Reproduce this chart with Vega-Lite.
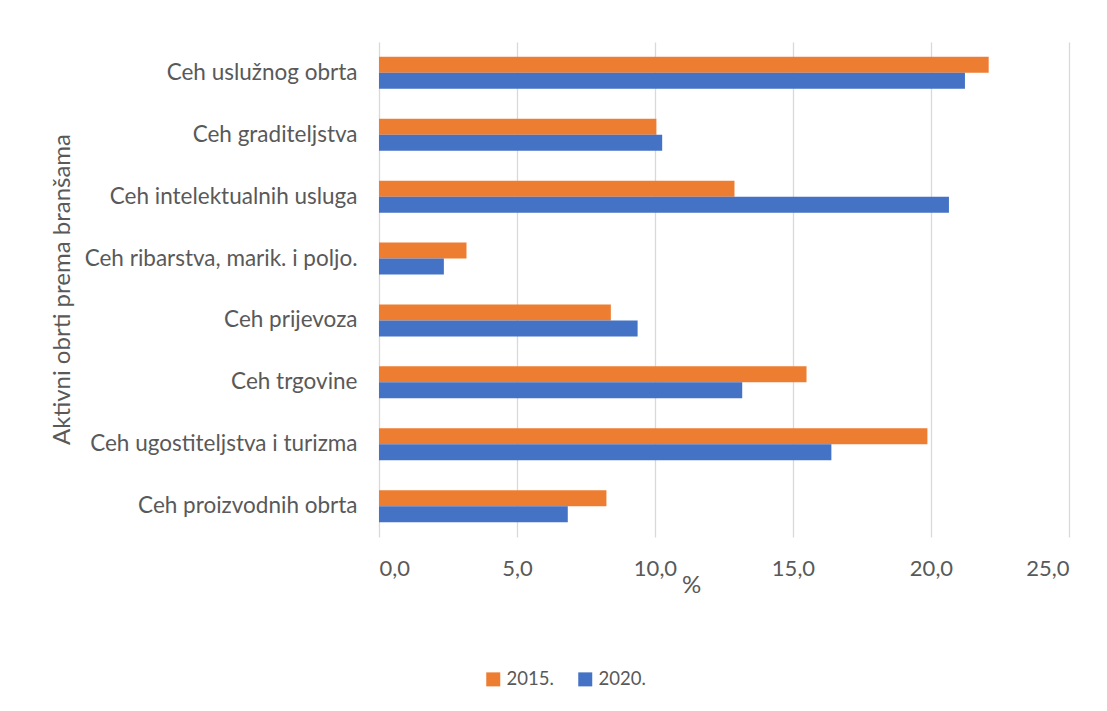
{
  "$schema": "https://vega.github.io/schema/vega-lite/v6.json",
  "width": 690,
  "height": 495,
  "autosize": {"type": "none"},
  "padding": {"left": 379, "top": 42, "right": 38, "bottom": 174},
  "background": "white",
  "config": {
    "font": "Lato",
    "view": {"stroke": null},
    "axis": {"labelColor": "#595959", "titleColor": "#595959", "labelFont": "Lato", "titleFont": "Lato", "labelFontWeight": "normal", "titleFontWeight": "normal"}
  },
  "data": {
    "values": [
      {"ceh": "Ceh uslužnog obrta", "godina": "2015.", "vrijednost": 22.09},
      {"ceh": "Ceh uslužnog obrta", "godina": "2020.", "vrijednost": 21.23},
      {"ceh": "Ceh graditeljstva", "godina": "2015.", "vrijednost": 10.05},
      {"ceh": "Ceh graditeljstva", "godina": "2020.", "vrijednost": 10.26},
      {"ceh": "Ceh intelektualnih usluga", "godina": "2015.", "vrijednost": 12.88},
      {"ceh": "Ceh intelektualnih usluga", "godina": "2020.", "vrijednost": 20.65},
      {"ceh": "Ceh ribarstva, marik. i poljo.", "godina": "2015.", "vrijednost": 3.17},
      {"ceh": "Ceh ribarstva, marik. i poljo.", "godina": "2020.", "vrijednost": 2.35},
      {"ceh": "Ceh prijevoza", "godina": "2015.", "vrijednost": 8.40},
      {"ceh": "Ceh prijevoza", "godina": "2020.", "vrijednost": 9.37},
      {"ceh": "Ceh trgovine", "godina": "2015.", "vrijednost": 15.49},
      {"ceh": "Ceh trgovine", "godina": "2020.", "vrijednost": 13.16},
      {"ceh": "Ceh ugostiteljstva i turizma", "godina": "2015.", "vrijednost": 19.87},
      {"ceh": "Ceh ugostiteljstva i turizma", "godina": "2020.", "vrijednost": 16.39},
      {"ceh": "Ceh proizvodnih obrta", "godina": "2015.", "vrijednost": 8.24},
      {"ceh": "Ceh proizvodnih obrta", "godina": "2020.", "vrijednost": 6.84}
    ]
  },
  "mark": {"type": "bar"},
  "encoding": {
    "y": {
      "field": "ceh",
      "type": "nominal",
      "sort": null,
      "scale": {"paddingInner": 0.483, "paddingOuter": 0.24},
      "axis": {
        "title": "Aktivni obrti prema branšama",
        "titleFontSize": 24,
        "titleX": -317,
        "titleY": 247,
        "titleAngle": -90,
        "titleAlign": "center",
        "titleBaseline": "middle",
        "labelFontSize": 22.5,
        "labelPadding": 22,
        "ticks": false,
        "domain": false,
        "grid": false,
        "labelLimit": 400
      }
    },
    "yOffset": {"field": "godina", "type": "nominal", "scale": {"paddingInner": 0, "paddingOuter": 0}},
    "x": {
      "field": "vrijednost",
      "type": "quantitative",
      "scale": {"domain": [0, 25], "nice": false},
      "axis": {
        "title": "%",
        "titleFontSize": 24,
        "titleX": 312,
        "titleY": 48,
        "titleAlign": "center",
        "titleBaseline": "middle",
        "values": [0, 5, 10, 15, 20, 25],
        "labelExpr": "replace(format(datum.value, '.1f'), '.', ',')",
        "labelFontSize": 22,
        "labelPadding": 21,
        "ticks": false,
        "domain": false,
        "grid": true,
        "gridColor": "#d9d9d9",
        "gridWidth": 1.3
      }
    },
    "color": {
      "field": "godina",
      "type": "nominal",
      "scale": {"domain": ["2015.", "2020."], "range": ["#ED7D31", "#4472C4"]},
      "legend": {
        "title": null,
        "orient": "none",
        "direction": "horizontal",
        "legendX": 105,
        "legendY": 628,
        "symbolType": "square",
        "symbolSize": 196,
        "symbolStrokeWidth": 0,
        "labelFontSize": 18.5,
        "labelColor": "#595959",
        "labelFont": "Lato",
        "columnPadding": 22,
        "symbolOffset": 0,
        "labelOffset": 4
      }
    }
  }
}
